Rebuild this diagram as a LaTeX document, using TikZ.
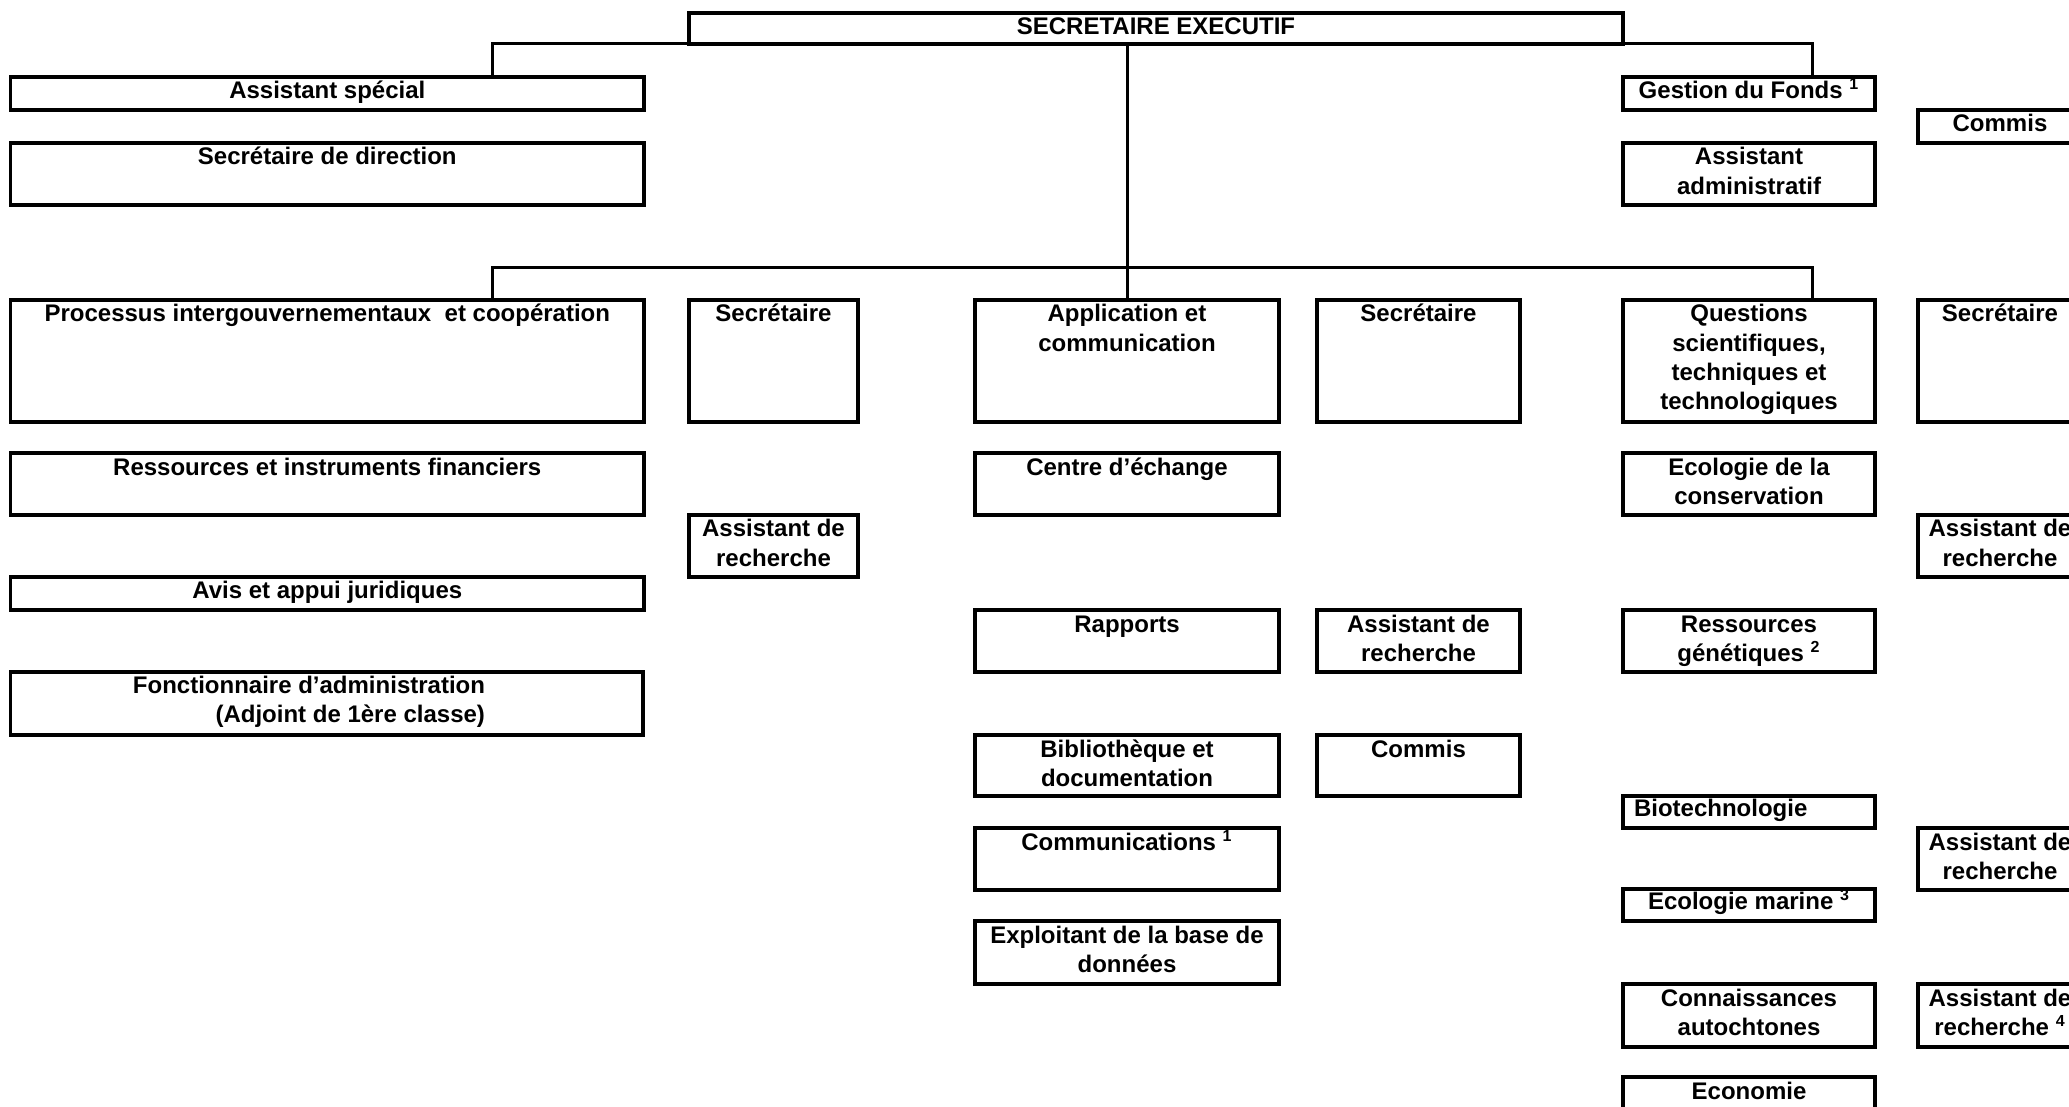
\documentclass[tikz,border=0pt]{standalone}
\usepackage{fontspec}
\setmainfont{Liberation Sans}
\usetikzlibrary{fit}
\tikzset{
  box/.style={draw, line width=1.65pt, inner sep=0pt, outer sep=0pt, rectangle},
  conn/.style={line width=1.5pt},
  txt/.style={inner sep=0pt, outer sep=0pt, anchor=base, font=\fontsize{12}{14.6}\selectfont\bfseries},
}
\newcommand\lines[1]{\begin{tabular}[t]{@{}c@{}}#1\end{tabular}}
\newcommand\rlines[1]{\begin{tabular}[t]{@{}r@{}}#1\end{tabular}}
\begin{document}
\begin{tikzpicture}[x=0.5pt, y=-0.5pt]
\useasboundingbox (0,0) rectangle (2069,1107);
\clip (0,0) rectangle (2069,1107);
\fill[white] (0,0) rectangle (2069,1107);

% ---------- boxes ----------
\node[box, fit={(689,13) (1623,44)}] (top) {};
\node[box, fit={(10.6,77) (644,110)}] (sp) {};
\node[box, fit={(10.6,143) (644,205)}] (sd) {};
\node[box, fit={(10.6,300) (644,422)}] (proc) {};
\node[box, fit={(10.6,453) (644,515)}] (res) {};
\node[box, fit={(10.6,577) (644,610)}] (avis) {};
\node[box, fit={(10.6,672) (643,735)}] (fon) {};

\node[box, fit={(689,300) (858,422)}] (sec1) {};
\node[box, fit={(689,515) (858,577)}] (ar1) {};

\node[box, fit={(975,300) (1279,422)}] (app) {};
\node[box, fit={(975,453) (1279,515)}] (ce) {};
\node[box, fit={(975,610) (1279,672)}] (rap) {};
\node[box, fit={(975,735) (1279,796)}] (bib) {};
\node[box, fit={(975,828) (1279,890)}] (com) {};
\node[box, fit={(975,921) (1279,984)}] (exp) {};

\node[box, fit={(1317,300) (1520,422)}] (sec2) {};
\node[box, fit={(1317,610) (1520,672)}] (ar2) {};
\node[box, fit={(1317,735) (1520,796)}] (cm2) {};

\node[box, fit={(1623,77) (1875,110)}] (gf) {};
\node[box, fit={(1623,143) (1875,205)}] (aa) {};
\node[box, fit={(1623,300) (1875,422)}] (qst) {};
\node[box, fit={(1623,453) (1875,515)}] (eco) {};
\node[box, fit={(1623,610) (1875,672)}] (rg) {};
\node[box, fit={(1623,796) (1875,828)}] (bio) {};
\node[box, fit={(1623,889) (1875,921)}] (em) {};
\node[box, fit={(1623,984) (1875,1047)}] (ca) {};
\node[box, fit={(1623,1077) (1875,1140)}] (ecn) {};

\node[box, fit={(1918,110) (2082,143)}] (cm6) {};
\node[box, fit={(1918,300) (2082,422)}] (sec6) {};
\node[box, fit={(1918,515) (2082,577)}] (ar6a) {};
\node[box, fit={(1918,828) (2082,890)}] (ar6b) {};
\node[box, fit={(1918,984) (2082,1047)}] (ar6c) {};

% ---------- texts ----------
\node[txt] (top-t) at ([yshift=-10.6pt]top.north) {\lines{SECRETAIRE EXECUTIF}};
\node[txt] (sp-t) at ([yshift=-10.6pt]sp.north) {\lines{Assistant spécial}};
\node[txt] (sd-t) at ([yshift=-10.8pt]sd.north) {\lines{Secrétaire de direction}};
\node[txt] (proc-t) at ([yshift=-11pt]proc.north) {\lines{Processus intergouvernementaux\ \ et coopération}};
\node[txt] (res-t) at ([yshift=-11pt]res.north) {\lines{Ressources et instruments financiers}};
\node[txt] (avis-t) at ([yshift=-10.6pt]avis.north) {\lines{Avis et appui juridiques}};
\node[txt, anchor=base east] (fon-t) at ([xshift=237.2pt, yshift=-10.6pt]fon.north west) {\rlines{Fonctionnaire d’administration\\(Adjoint de 1ère classe)}};

\node[txt] (sec1-t) at ([yshift=-11pt]sec1.north) {\lines{Secrétaire}};
\node[txt] (ar1-t) at ([yshift=-11pt]ar1.north) {\lines{Assistant de\\recherche}};

\node[txt] (app-t) at ([yshift=-11pt]app.north) {\lines{Application et\\communication}};
\node[txt] (ce-t) at ([yshift=-11pt]ce.north) {\lines{Centre d’échange}};
\node[txt] (rap-t) at ([yshift=-11pt]rap.north) {\lines{Rapports}};
\node[txt] (bib-t) at ([yshift=-11pt]bib.north) {\lines{Bibliothèque et\\documentation}};
\node[txt] (com-t) at ([yshift=-11pt]com.north) {\lines{Communications \textsuperscript{1}}};
\node[txt] (exp-t) at ([yshift=-11pt]exp.north) {\lines{Exploitant de la base de\\données}};

\node[txt] (sec2-t) at ([yshift=-11pt]sec2.north) {\lines{Secrétaire}};
\node[txt] (ar2-t) at ([yshift=-11pt]ar2.north) {\lines{Assistant de\\recherche}};
\node[txt] (cm2-t) at ([yshift=-11pt]cm2.north) {\lines{Commis}};

\node[txt] (gf-t) at ([yshift=-10.6pt]gf.north) {\lines{Gestion du Fonds \textsuperscript{1}}};
\node[txt] (aa-t) at ([yshift=-11pt]aa.north) {\lines{Assistant\\administratif}};
\node[txt] (qst-t) at ([yshift=-11pt]qst.north) {\lines{Questions\\scientifiques,\\techniques et\\technologiques}};
\node[txt] (eco-t) at ([yshift=-11pt]eco.north) {\lines{Ecologie de la\\conservation}};
\node[txt] (rg-t) at ([yshift=-11pt]rg.north) {\lines{Ressources\\génétiques \textsuperscript{2}}};
\node[txt, anchor=base west] (bio-t) at ([xshift=5.5pt, yshift=-10pt]bio.north west) {\lines{Biotechnologie}};
\node[txt] (em-t) at ([yshift=-10pt]em.north) {\lines{Ecologie marine \textsuperscript{3}}};
\node[txt] (ca-t) at ([yshift=-11pt]ca.north) {\lines{Connaissances\\autochtones}};
\node[txt] (ecn-t) at ([yshift=-11pt]ecn.north) {\lines{Economie}};

\node[txt] (cm6-t) at ([yshift=-10.6pt]cm6.north) {\lines{Commis}};
\node[txt] (sec6-t) at ([yshift=-11pt]sec6.north) {\lines{Secrétaire}};
\node[txt] (ar6a-t) at ([yshift=-11pt]ar6a.north) {\lines{Assistant de\\recherche}};
\node[txt] (ar6b-t) at ([yshift=-11pt]ar6b.north) {\lines{Assistant de\\recherche}};
\node[txt] (ar6c-t) at ([yshift=-11pt]ar6c.north) {\lines{Assistant de\\recherche \textsuperscript{4}}};

% ---------- connectors ----------
\coordinate (jL) at (492,0);
\coordinate (jR) at (1812,0);
\coordinate (bar) at (0,268);
\draw[conn] (sp.north -| jL) |- (top.south) -| (gf.north -| jR);
\draw[conn] (app.north) -- (app.north |- top.south);
\draw[conn] (proc.north -| jL) |- (bar -| app.north) -| (qst.north -| jR);
\end{tikzpicture}
\end{document}
